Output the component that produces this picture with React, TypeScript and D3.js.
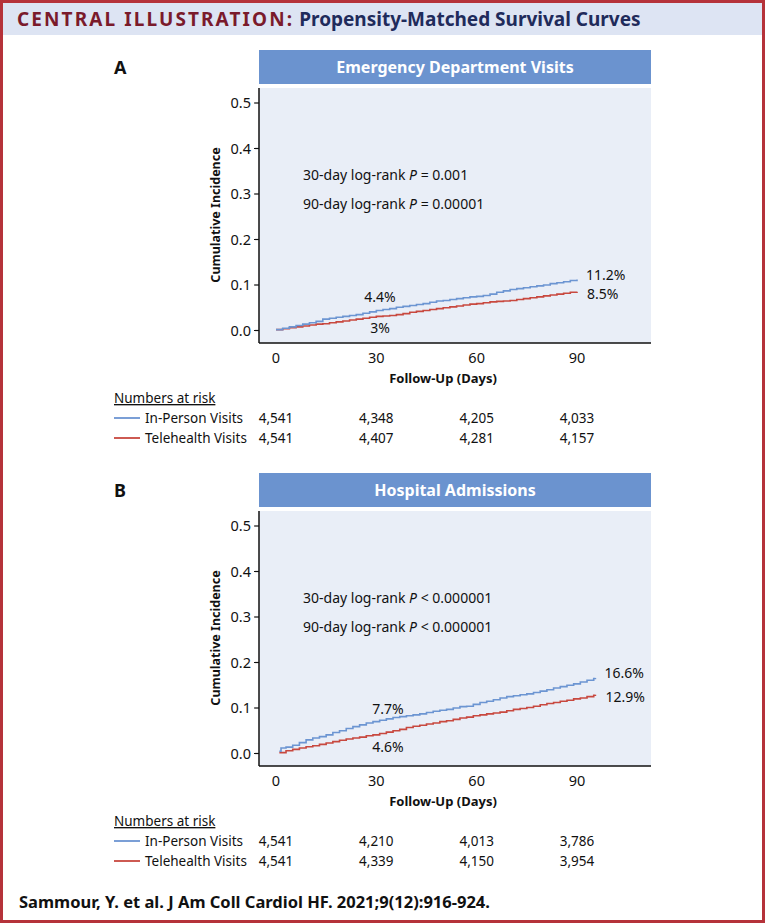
import React from "react";
import * as d3 from "d3";

// ---------- data ----------
const panelLetters = ["A", "B"];
const panelTitles = ["Emergency Department Visits", "Hospital Admissions"];
const yTicks = [0.0, 0.1, 0.2, 0.3, 0.4, 0.5];
const xTicks = [0, 30, 60, 90];
const seriesNames = ["In-Person Visits", "Telehealth Visits"];

// Panel A (ED visits)
const edInPersonDays = [0, 2, 4, 6, 8, 10, 12, 14, 16, 18, 20, 22, 24, 26, 28, 30, 32, 34, 36, 38, 40, 42, 44, 46, 48, 50, 52, 54, 56, 58, 60, 62, 64, 66, 68, 70, 72, 74, 76, 78, 80, 82, 84, 86, 88, 90];
const edInPersonInc = [0.002, 0.005, 0.008, 0.011, 0.014, 0.017, 0.020, 0.025, 0.027, 0.029, 0.031, 0.033, 0.035, 0.038, 0.041, 0.044, 0.046, 0.048, 0.051, 0.053, 0.055, 0.057, 0.059, 0.062, 0.065, 0.066, 0.068, 0.070, 0.072, 0.074, 0.075, 0.077, 0.080, 0.084, 0.087, 0.090, 0.092, 0.094, 0.096, 0.098, 0.100, 0.103, 0.105, 0.107, 0.110, 0.112];
const edTeleDays = [0, 2, 4, 6, 8, 10, 12, 14, 16, 18, 20, 22, 24, 26, 28, 30, 32, 34, 36, 38, 40, 42, 44, 46, 48, 50, 52, 54, 56, 58, 60, 62, 64, 66, 68, 70, 72, 74, 76, 78, 80, 82, 84, 86, 88, 90];
const edTeleInc = [0.002, 0.004, 0.006, 0.008, 0.010, 0.012, 0.014, 0.015, 0.017, 0.019, 0.021, 0.023, 0.025, 0.027, 0.029, 0.031, 0.032, 0.033, 0.035, 0.037, 0.040, 0.042, 0.044, 0.046, 0.048, 0.050, 0.052, 0.054, 0.056, 0.058, 0.059, 0.061, 0.063, 0.064, 0.065, 0.066, 0.068, 0.070, 0.072, 0.074, 0.076, 0.078, 0.080, 0.082, 0.084, 0.085];

// Panel B (hospital admissions)
const haInPersonDays = [1, 1.5, 3, 5, 7, 9, 11, 13, 15, 17, 19, 21, 23, 25, 27, 29, 31, 33, 35, 37, 39, 41, 43, 45, 47, 49, 51, 53, 55, 57, 59, 61, 63, 65, 67, 69, 71, 73, 75, 77, 79, 81, 83, 85, 87, 89, 91, 93, 95, 95.5];
const haInPersonInc = [0.005, 0.012, 0.014, 0.018, 0.024, 0.030, 0.034, 0.037, 0.041, 0.046, 0.050, 0.055, 0.059, 0.063, 0.067, 0.070, 0.073, 0.076, 0.079, 0.081, 0.083, 0.085, 0.087, 0.090, 0.093, 0.095, 0.097, 0.100, 0.103, 0.104, 0.108, 0.112, 0.115, 0.118, 0.122, 0.125, 0.127, 0.129, 0.131, 0.134, 0.137, 0.140, 0.144, 0.147, 0.150, 0.153, 0.157, 0.161, 0.165, 0.166];
const haTeleDays = [1, 3, 5, 7, 9, 11, 13, 15, 17, 19, 21, 23, 25, 27, 29, 31, 33, 35, 37, 39, 41, 43, 45, 47, 49, 51, 53, 55, 57, 59, 61, 63, 65, 67, 69, 71, 73, 75, 77, 79, 81, 83, 85, 87, 89, 91, 93, 95, 95.5];
const haTeleInc = [0.002, 0.006, 0.009, 0.012, 0.015, 0.017, 0.020, 0.023, 0.026, 0.029, 0.032, 0.034, 0.036, 0.039, 0.041, 0.044, 0.047, 0.050, 0.053, 0.057, 0.060, 0.062, 0.065, 0.067, 0.070, 0.072, 0.075, 0.078, 0.080, 0.083, 0.085, 0.087, 0.089, 0.091, 0.094, 0.097, 0.099, 0.101, 0.104, 0.107, 0.110, 0.112, 0.115, 0.117, 0.120, 0.122, 0.125, 0.128, 0.129];

const edPValues = ["= 0.001", "= 0.00001"];
const haPValues = ["< 0.000001", "< 0.000001"];

const edRiskInPerson = ["4,541", "4,348", "4,205", "4,033"];
const edRiskTele = ["4,541", "4,407", "4,281", "4,157"];
const haRiskInPerson = ["4,541", "4,210", "4,013", "3,786"];
const haRiskTele = ["4,541", "4,339", "4,150", "3,954"];

const edLabels30 = ["4.4%", "3%"];
const edLabelsEnd = ["11.2%", "8.5%"];
const haLabels30 = ["7.7%", "4.6%"];
const haLabelsEnd = ["16.6%", "12.9%"];

// ---------- styles ----------
const FONT = "'Noto Sans', 'Open Sans', sans-serif";
const BLUE = "#6b93cf";
const LINE_BLUE = "#6c95d2";
const LINE_RED = "#c8483f";
const BG = "#e9eef7";
const BORDER = "#b5323a";

type PanelProps = {
  idx: number;
  dy: number;
  inDays: number[];
  inInc: number[];
  teleDays: number[];
  teleInc: number[];
  pvals: string[];
  riskIn: string[];
  riskTele: string[];
  lab30: string[];
  labEnd: string[];
  lab30dx: number[];
};

function stepAt(days: number[], vals: number[], t: number) {
  const i = d3.bisectRight(days, t) - 1;
  return vals[Math.max(0, i)];
}

function Panel(p: PanelProps) {
  const left = 259, right = 651;
  const top = 88 + p.dy, axisY = 343 + p.dy;
  const x = d3.scaleLinear().domain([0, 90]).range([276, 577]);
  const y = d3.scaleLinear().domain([0, 0.5]).range([330.5 + p.dy, 103 + p.dy]);
  const line = d3
    .line<[number, number]>()
    .x((d) => x(d[0]))
    .y((d) => y(d[1]))
    .curve(d3.curveStepAfter);
  const inPts: [number, number][] = p.inDays.map((d, i) => [d, p.inInc[i]]);
  const telePts: [number, number][] = p.teleDays.map((d, i) => [d, p.teleInc[i]]);
  const endIn = inPts[inPts.length - 1];
  const endTele = telePts[telePts.length - 1];
  const in30 = stepAt(p.inDays, p.inInc, 30);
  const tele30 = stepAt(p.teleDays, p.teleInc, 30);
  return (
    <g>
      <text x={114} y={74 + p.dy} fontFamily={FONT} fontWeight={700} fontSize={18} fill="#111">
        {panelLetters[p.idx]}
      </text>
      <rect x={left} y={50 + p.dy} width={right - left} height={34} fill={BLUE} />
      <text
        x={(left + right) / 2}
        y={73 + p.dy}
        textAnchor="middle"
        fontFamily={FONT}
        fontWeight={700}
        fontSize={16}
        fill="#fff"
      >
        {panelTitles[p.idx]}
      </text>
      <rect x={left} y={top} width={right - left} height={axisY - top} fill={BG} />
      <line x1={left} x2={left} y1={top} y2={axisY} stroke="#111" strokeWidth={1.5} />
      <line x1={left} x2={right} y1={axisY} y2={axisY} stroke="#111" strokeWidth={1.5} />
      {yTicks.map((t) => (
        <g key={t}>
          <line x1={left - 5} x2={left} y1={y(t)} y2={y(t)} stroke="#111" strokeWidth={1.2} />
          <text x={left - 8} y={y(t) + 5} textAnchor="end" fontFamily={FONT} fontSize={14.5} fill="#111">
            {t.toFixed(1)}
          </text>
        </g>
      ))}
      {xTicks.map((t) => (
        <text key={t} x={x(t)} y={363 + p.dy} textAnchor="middle" fontFamily={FONT} fontSize={14.5} fill="#111">
          {t}
        </text>
      ))}
      <text x={443} y={383 + p.dy} textAnchor="middle" fontFamily={FONT} fontWeight={700} fontSize={13} fill="#111">
        Follow-Up (Days)
      </text>
      <text
        transform={`translate(220,${215 + p.dy}) rotate(-90)`}
        textAnchor="middle"
        fontFamily={FONT}
        fontWeight={700}
        fontSize={12.5}
        fill="#111"
      >
        Cumulative Incidence
      </text>
      {p.pvals.map((pv, i) => (
        <text key={i} x={303} y={180 + i * 28.5 + p.dy} fontFamily={FONT} fontSize={14} fill="#111">
          {i === 0 ? "30" : "90"}-day log-rank <tspan fontStyle="italic">P</tspan> {pv}
        </text>
      ))}
      <path d={line(telePts) || ""} fill="none" stroke={LINE_RED} strokeWidth={1.6} />
      <path d={line(inPts) || ""} fill="none" stroke={LINE_BLUE} strokeWidth={1.6} />
      <text x={x(30) + p.lab30dx[0]} y={y(in30) - 8} fontFamily={FONT} fontSize={14} fill="#111">
        {p.lab30[0]}
      </text>
      <text x={x(30) + p.lab30dx[1]} y={y(tele30) + 17} fontFamily={FONT} fontSize={14} fill="#111">
        {p.lab30[1]}
      </text>
      <text x={x(endIn[0]) + 9} y={y(endIn[1]) + 0.5} fontFamily={FONT} fontSize={14} fill="#111">
        {p.labEnd[0]}
      </text>
      <text x={x(endTele[0]) + 10} y={y(endTele[1]) + 7.5} fontFamily={FONT} fontSize={14} fill="#111">
        {p.labEnd[1]}
      </text>
      <text x={114} y={403 + p.dy} fontFamily={FONT} fontSize={13.5} fill="#111" textDecoration="underline">
        Numbers at risk
      </text>
      {[p.riskIn, p.riskTele].map((row, r) => (
        <g key={r}>
          <line
            x1={114}
            x2={140}
            y1={418 + r * 20 + p.dy}
            y2={418 + r * 20 + p.dy}
            stroke={r === 0 ? LINE_BLUE : LINE_RED}
            strokeWidth={1.8}
          />
          <text x={145} y={423 + r * 20 + p.dy} fontFamily={FONT} fontSize={13.5} fill="#111">
            {seriesNames[r]}
          </text>
          {row.map((v, i) => (
            <text
              key={i}
              x={x(xTicks[i])}
              y={423 + r * 20 + p.dy}
              textAnchor="middle"
              fontFamily={FONT}
              fontSize={13.5}
              fill="#111"
            >
              {v}
            </text>
          ))}
        </g>
      ))}
    </g>
  );
}

export default function App() {
  const W = 765, H = 923;
  return (
    <svg width={W} height={H} style={{ position: "absolute", left: 0, top: 0, display: "block" }} xmlns="http://www.w3.org/2000/svg">
      <rect x={0} y={0} width={W} height={H} fill="#fff" />
      <rect x={3} y={3} width={W - 6} height={32} fill="#dde4f3" />
      <text x={17} y={26} fontFamily={FONT} fontWeight={700} fontSize={19}>
        <tspan fill="#7a1a2b" letterSpacing={2.1}>CENTRAL ILLUSTRATION:</tspan>
        <tspan fill="#1f2b5b" dx={5}>Propensity-Matched Survival Curves</tspan>
      </text>
      <Panel
        idx={0}
        dy={0}
        inDays={edInPersonDays}
        inInc={edInPersonInc}
        teleDays={edTeleDays}
        teleInc={edTeleInc}
        pvals={edPValues}
        riskIn={edRiskInPerson}
        riskTele={edRiskTele}
        lab30={edLabels30}
        labEnd={edLabelsEnd}
        lab30dx={[-12, -6]}
      />
      <Panel
        idx={1}
        dy={423}
        inDays={haInPersonDays}
        inInc={haInPersonInc}
        teleDays={haTeleDays}
        teleInc={haTeleInc}
        pvals={haPValues}
        riskIn={haRiskInPerson}
        riskTele={haRiskTele}
        lab30={haLabels30}
        labEnd={haLabelsEnd}
        lab30dx={[-4, -4]}
      />
      <text x={19} y={908} fontFamily={FONT} fontWeight={700} fontSize={16.5} fill="#111">
        Sammour, Y. et al. J Am Coll Cardiol HF. 2021;9(12):916-924.
      </text>
      <rect x={1.5} y={1.5} width={W - 3} height={H - 3} fill="none" stroke={BORDER} strokeWidth={3} />
    </svg>
  );
}
